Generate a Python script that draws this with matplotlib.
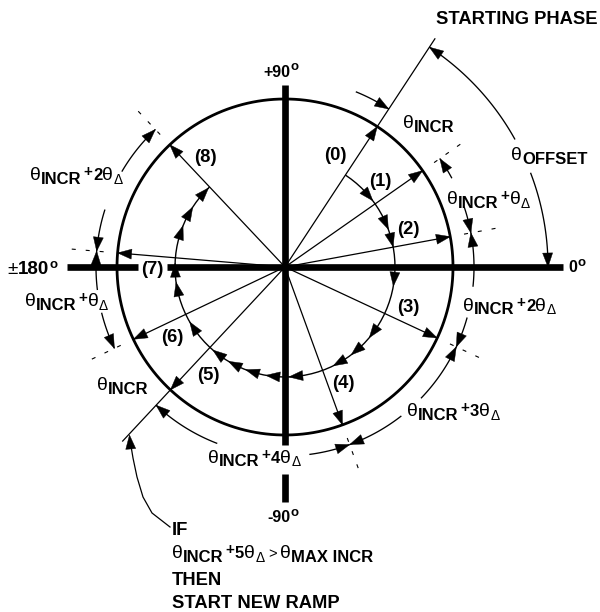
import numpy as np
import matplotlib
matplotlib.use("Agg")
import matplotlib.pyplot as plt
from matplotlib.patches import Polygon

# ---------------- data ----------------
vector_labels = ["(0)", "(1)", "(2)", "(3)", "(4)", "(5)", "(6)", "(7)", "(8)"]
vector_angles = [56.7, 35.0, 10.4, -25.0, -70.0, -133.0, -154.5, -184.8, -226.7]   # phase of each step, deg
inner_arrow_angles = [37, 20, 10.5, -10, -40, -53, -64, -88, -100, -111, -121,
                      -131, -150, -172, -182, -202, -213, -226]
increment_multipliers = [0, 1, 2, 3, 4, 0, 1, 2]          # theta_INCR + k*theta_DELTA per step
axis_labels = ["+90", "-90", "0", "180"]
title_text = "STARTING PHASE"
note_lines = ["IF", "THEN", "START NEW RAMP"]

# ---------------- figure (1 data unit = 1 pixel, y down) ----------------
W, H = 600, 612
fig = plt.figure(figsize=(6, 6.12), dpi=100)
ax = fig.add_axes([0, 0, 1, 1])
ax.set_xlim(0, W)
ax.set_ylim(H, 0)
ax.axis("off")
renderer = fig.canvas.get_renderer()

CX, CY = 285.0, 267.0
R_CIRC, R_INNER, R_DIM, R_OFF = 168.0, 110.0, 189.0, 263.0
FONT = "Liberation Sans"
BIG = 13.2


def pol(r, a):
    t = np.deg2rad(a)
    return np.array([CX + r * np.cos(t), CY - r * np.sin(t)])


def head(tip, frm, L=14.0, w=5.0):
    tip = np.asarray(tip, float)
    frm = np.asarray(frm, float)
    d = tip - frm
    d /= np.hypot(*d)
    n = np.array([-d[1], d[0]])
    base = tip - L * d
    ax.add_patch(Polygon([tip, base + w * n, base - w * n], closed=True,
                         fc="k", ec="k", lw=0.3, zorder=5))


def arc(r, a0, a1, arrow=False, lw=0.95, L=14.0):
    aa = np.linspace(a0, a1, 80)
    pts = np.array([pol(r, a) for a in aa])
    ax.plot(pts[:, 0], pts[:, 1], color="k", lw=lw, solid_capstyle="butt")
    if arrow:
        s = np.sign(a1 - a0)
        back = np.rad2deg(L / r)
        head(pol(r, a1), pol(r, a1 - s * back), L=L)


STY = {
    "th": (14.0, "normal", 0.0),
    "sub": (12.0, "bold", 3.5),
    "plus": (11.0, "bold", -4.0),
    "num": (12.0, "bold", 0.0),
    "del": (10.0, "normal", 3.5),
    "deg": (9.5, "bold", -6.5),
    "b": (11.5, "bold", 0.0),
    "bb": (13.5, "bold", 0.0),
    "r": (13.5, "normal", 0.0),
    "gt": (10.5, "normal", 0.0),
}


def rich(x, y, parts):
    for s, kind, gap in parts:
        size, weight, dy = STY[kind]
        t = ax.text(x, y + dy, s, fontsize=size, fontweight=weight, family=FONT,
                    va="baseline", ha="left", zorder=6)
        x += t.get_window_extent(renderer).width + gap
    return x


def theta_parts(k, sub="INCR"):
    p = [("θ", "th", 0.3), (sub, "sub", 1.5)]
    if k > 0:
        p.append(("+", "plus", 1.0))
        if k > 1:
            p.append((str(k), "num", 0.3))
        p += [("θ", "th", 0.0), ("Δ", "del", 0.0)]
    return p


# ---------------- axes (thick cross) ----------------
AX_LW = 4.8
ax.plot([CX, CX], [85, 445], color="k", lw=AX_LW, solid_capstyle="butt")
ax.plot([CX, CX], [474, 502], color="k", lw=AX_LW, solid_capstyle="butt")
ax.plot([67, 138], [CY, CY], color="k", lw=AX_LW, solid_capstyle="butt")
ax.plot([167, 563], [CY, CY], color="k", lw=AX_LW, solid_capstyle="butt")

# ---------------- circle ----------------
tt = np.linspace(0, 360, 400)
cp = np.array([pol(R_CIRC, a) for a in tt])
ax.plot(cp[:, 0], cp[:, 1], color="k", lw=2.0)

# ---------------- phase vectors ----------------
ext = {0: 273.0, 5: 238.0}
for i, a in enumerate(vector_angles):
    end = pol(ext.get(i, R_CIRC), a)
    ax.plot([CX, end[0]], [CY, end[1]], color="k", lw=0.9)
    head(pol(R_CIRC, a), (CX, CY))
    if i not in ext:
        p0, p1 = pol(182, a), pol(215, a)
        ax.plot([p0[0], p1[0]], [p0[1], p1[1]], color="k", lw=0.8,
                linestyle=(0, (3.6, 9)))

label_pos = [(335, 155), (380, 182), (408, 230), (408, 307), (343, 383),
             (208, 376), (172, 337), (152, 270), (205, 157)]
for lab, (x, y) in zip(vector_labels, label_pos):
    ax.text(x, y, lab, fontsize=BIG, fontweight="bold", family=FONT,
            ha="center", va="center", zorder=6)

# ---------------- inner stepping arc ----------------
arc(R_INNER, vector_angles[0], vector_angles[-1], lw=1.0)
for a in inner_arrow_angles:
    back = np.rad2deg(14.0 / R_INNER)
    head(pol(R_INNER, a), pol(R_INNER, a + back))

# ---------------- dimension arcs ----------------
va = vector_angles
arc(R_OFF, 29, va[0], arrow=True)
arc(R_OFF, 21, 0, arrow=True)
dim_pieces = [(68, va[0]), (28, va[1]), (18.6, va[2]), (-6, va[2]), (-15.5, va[3]),
              (-44, va[3]), (-52, va[4]), (-82.6, va[4]), (-111, va[5]),
              (-166, va[6]), (-173, va[7]), (-197.7, va[7]), (-210.3, va[8])]
for a0, a1 in dim_pieces:
    arc(R_DIM, a0, a1, arrow=True)

# leader from note to end of vector (5)
lead = np.array([(170, 527), (152, 513), (143, 497), (137, 477), (133, 458), (130, 440)])
ax.plot(lead[:, 0], lead[:, 1], color="k", lw=0.9)
head((129.5, 435), (131, 452))

# ---------------- increment labels ----------------
inc_pos = [(403, 128), (447, 204), (463, 311), (407, 416), (208, 463),
           (97, 390), (25, 306), (30, 180)]
for k, (x, y) in zip(increment_multipliers, inc_pos):
    rich(x, y, theta_parts(k))
rich(511, 160, [("θ", "th", 0.3), ("OFFSET", "sub", 0)])

# ---------------- axis labels ----------------
rich(263, 77, [(axis_labels[0], "b", 0.5), ("o", "deg", 0)])
rich(267, 522, [(axis_labels[1], "b", 0.5), ("o", "deg", 0)])
rich(568, 272, [(axis_labels[2], "b", 0.5), ("o", "deg", 0)])
rich(7, 274, [("±", "r", 0.3), (axis_labels[3], "bb", 0.5), ("o", "deg", 0)])

# ---------------- texts ----------------
ax.text(436, 24, title_text, fontsize=BIG, fontweight="bold", family=FONT,
        ha="left", va="baseline")
ax.text(172, 535, note_lines[0], fontsize=BIG, fontweight="bold", family=FONT,
        ha="left", va="baseline")
xx = rich(172, 558, theta_parts(5))
xx = rich(xx + 4, 558, [(">", "gt", 3)])
rich(xx, 558, [("θ", "th", 0.3), ("MAX INCR", "sub", 0)])
ax.text(172, 585, note_lines[1], fontsize=BIG, fontweight="bold", family=FONT,
        ha="left", va="baseline")
ax.text(172, 608, note_lines[2], fontsize=BIG, fontweight="bold", family=FONT,
        ha="left", va="baseline")

fig.savefig("out.png", dpi=100)
